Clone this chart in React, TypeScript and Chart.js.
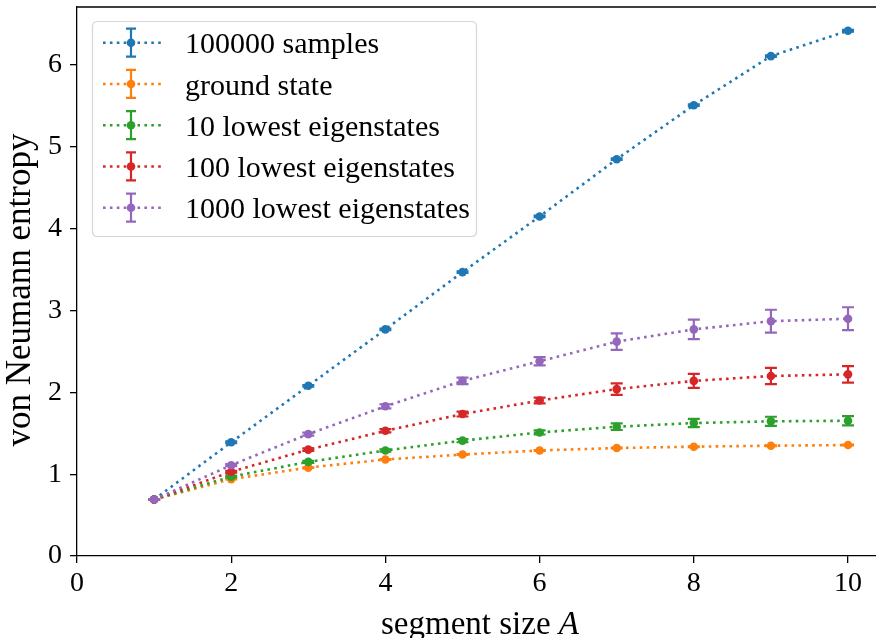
import React, { useEffect, useRef } from "react";
import { Chart, registerables } from "chart.js";

Chart.register(...registerables);

// ---- data ----
const segmentSizes = [1, 2, 3, 4, 5, 6, 7, 8, 9, 10];

const samples100000 = [0.69, 1.39, 2.08, 2.77, 3.47, 4.15, 4.85, 5.51, 6.11, 6.42];
const samples100000Err = [0.005, 0.01, 0.01, 0.01, 0.01, 0.01, 0.01, 0.01, 0.01, 0.01];

const groundState = [0.69, 0.94, 1.08, 1.18, 1.24, 1.29, 1.32, 1.336, 1.348, 1.356];
const groundStateErr = [0.002, 0.004, 0.004, 0.004, 0.005, 0.005, 0.005, 0.005, 0.005, 0.005];

const lowest10 = [0.69, 0.97, 1.15, 1.29, 1.41, 1.51, 1.58, 1.625, 1.646, 1.653];
const lowest10Err = [0.004, 0.01, 0.012, 0.015, 0.02, 0.025, 0.04, 0.05, 0.056, 0.056];

const lowest100 = [0.69, 1.03, 1.3, 1.53, 1.735, 1.9, 2.04, 2.14, 2.2, 2.22];
const lowest100Err = [0.004, 0.012, 0.015, 0.02, 0.03, 0.035, 0.07, 0.085, 0.1, 0.1];

const lowest1000 = [0.69, 1.11, 1.49, 1.83, 2.14, 2.38, 2.62, 2.77, 2.87, 2.9];
const lowest1000Err = [0.004, 0.012, 0.018, 0.025, 0.04, 0.05, 0.1, 0.12, 0.14, 0.14];

const seriesLabels = [
  "100000 samples",
  "ground state",
  "10 lowest eigenstates",
  "100 lowest eigenstates",
  "1000 lowest eigenstates",
];
const seriesValues = [samples100000, groundState, lowest10, lowest100, lowest1000];
const seriesErrors = [samples100000Err, groundStateErr, lowest10Err, lowest100Err, lowest1000Err];
const seriesColors = ["#1f77b4", "#ff7f0e", "#2ca02c", "#d62728", "#9467bd"];

const xTicks = [0, 2, 4, 6, 8, 10];
const yTicks = [0, 1, 2, 3, 4, 5, 6];

const xTitle = "segment size ";
const xTitleItalic = "A";
const yTitle = "von Neumann entropy";

// ---- style ----
const FONT = "'Liberation Serif', 'Times New Roman', serif";
const LINE_W = 2.6;
const DASH = [2.6, 4.3];
const POINT_R = 4.3;
const CAP = 6;

const errorBarPlugin = {
  id: "errorBars",
  afterDatasetDraw(chart: any, args: any) {
    const ds: any = chart.data.datasets[args.index];
    const errs: number[] = ds.errors;
    if (!errs) return;
    const ctx = chart.ctx;
    const yScale = chart.scales.y;
    const area = chart.chartArea;
    ctx.save();
    ctx.beginPath();
    ctx.rect(area.left, area.top, area.right - area.left, area.bottom - area.top);
    ctx.clip();
    ctx.strokeStyle = ds.borderColor;
    ctx.lineWidth = 2.2;
    ctx.setLineDash([]);
    args.meta.data.forEach((pt: any, i: number) => {
      const v = ds.data[i].y;
      const e = errs[i];
      const x = pt.x;
      const yTop = yScale.getPixelForValue(v + e);
      const yBot = yScale.getPixelForValue(v - e);
      ctx.beginPath();
      ctx.moveTo(x, yTop);
      ctx.lineTo(x, yBot);
      ctx.moveTo(x - CAP, yTop);
      ctx.lineTo(x + CAP, yTop);
      ctx.moveTo(x - CAP, yBot);
      ctx.lineTo(x + CAP, yBot);
      ctx.stroke();
    });
    ctx.restore();
  },
};

const decorPlugin = {
  id: "decor",
  afterDraw(chart: any) {
    const ctx = chart.ctx;
    const area = chart.chartArea;
    ctx.save();
    // top spine
    ctx.strokeStyle = "#000";
    ctx.lineWidth = 1.3;
    ctx.beginPath();
    ctx.moveTo(area.left - 0.65, area.top);
    ctx.lineTo(area.right, area.top);
    ctx.stroke();

    // axis titles
    ctx.fillStyle = "#000";
    ctx.textBaseline = "alphabetic";
    ctx.font = `33px ${FONT}`;
    const wA = ctx.measureText(xTitle).width;
    ctx.font = `italic 33px ${FONT}`;
    const wB = ctx.measureText(xTitleItalic).width;
    const cx = 480;
    const startX = cx - (wA + wB) / 2;
    ctx.font = `33px ${FONT}`;
    ctx.textAlign = "left";
    ctx.fillText(xTitle, startX, 634);
    ctx.font = `italic 33px ${FONT}`;
    ctx.fillText(xTitleItalic, startX + wA, 634);

    ctx.save();
    ctx.translate(30, 290);
    ctx.rotate(-Math.PI / 2);
    ctx.font = `35px ${FONT}`;
    ctx.textAlign = "center";
    ctx.fillText(yTitle, 0, 0);
    ctx.restore();

    // legend
    const bx = 92.5, by = 21.5, bw = 384, bh = 215, r = 5;
    ctx.beginPath();
    ctx.moveTo(bx + r, by);
    ctx.lineTo(bx + bw - r, by);
    ctx.quadraticCurveTo(bx + bw, by, bx + bw, by + r);
    ctx.lineTo(bx + bw, by + bh - r);
    ctx.quadraticCurveTo(bx + bw, by + bh, bx + bw - r, by + bh);
    ctx.lineTo(bx + r, by + bh);
    ctx.quadraticCurveTo(bx, by + bh, bx, by + bh - r);
    ctx.lineTo(bx, by + r);
    ctx.quadraticCurveTo(bx, by, bx + r, by);
    ctx.closePath();
    ctx.fillStyle = "rgba(255,255,255,0.8)";
    ctx.fill();
    ctx.strokeStyle = "rgba(204,204,204,0.8)";
    ctx.lineWidth = 1.2;
    ctx.stroke();

    seriesLabels.forEach((label, i) => {
      const cy = 42.7 + i * 41.25;
      const color = seriesColors[i];
      ctx.strokeStyle = color;
      ctx.lineWidth = LINE_W;
      ctx.setLineDash(DASH);
      ctx.lineCap = "butt";
      ctx.beginPath();
      ctx.moveTo(103, cy);
      ctx.lineTo(161, cy);
      ctx.stroke();
      ctx.setLineDash([]);
      ctx.lineWidth = 2.2;
      ctx.beginPath();
      ctx.moveTo(131, cy - 14);
      ctx.lineTo(131, cy + 14);
      ctx.moveTo(131 - 5, cy - 14);
      ctx.lineTo(131 + 5, cy - 14);
      ctx.moveTo(131 - 5, cy + 14);
      ctx.lineTo(131 + 5, cy + 14);
      ctx.stroke();
      ctx.fillStyle = color;
      ctx.beginPath();
      ctx.arc(131, cy, POINT_R, 0, Math.PI * 2);
      ctx.fill();
      ctx.fillStyle = "#000";
      ctx.font = `30px ${FONT}`;
      ctx.textAlign = "left";
      ctx.textBaseline = "alphabetic";
      ctx.fillText(label, 185, cy + 10.6);
    });
    ctx.restore();
  },
};

const zeroPadding = (scale: any) => {
  scale.paddingTop = 0;
  scale.paddingBottom = 0;
  scale.paddingLeft = 0;
  scale.paddingRight = 0;
};

export default function App() {
  const ref = useRef<HTMLCanvasElement>(null);

  useEffect(() => {
    document.body.style.margin = "0";
    const datasets = seriesLabels.map((label, i) => ({
      label,
      data: segmentSizes.map((x, j) => ({ x, y: seriesValues[i][j] })),
      errors: seriesErrors[i],
      borderColor: seriesColors[i],
      backgroundColor: seriesColors[i],
      pointBackgroundColor: seriesColors[i],
      pointBorderWidth: 0,
      pointRadius: POINT_R,
      borderWidth: LINE_W,
      borderDash: DASH,
      borderCapStyle: "butt",
      tension: 0,
      fill: false,
      order: seriesLabels.length - 1 - i,
    }));

    const tickFont = { family: FONT, size: 28 };

    const chart = new Chart(ref.current as HTMLCanvasElement, {
      type: "line",
      data: { datasets } as any,
      options: {
        animation: false,
        responsive: false,
        devicePixelRatio: 1,
        layout: { autoPadding: false, padding: { top: 7, left: 0, right: 0, bottom: 0 } },
        plugins: {
          legend: { display: false },
          tooltip: { enabled: false },
        },
        scales: {
          x: {
            type: "linear",
            min: 0,
            max: 10.363,
            afterBuildTicks: (scale: any) => {
              scale.ticks = xTicks.map((v) => ({ value: v }));
            },
            afterFit: (scale: any) => {
              scale.height = 82;
              zeroPadding(scale);
            },
            grid: {
              display: true,
              drawOnChartArea: false,
              drawTicks: true,
              tickLength: 7,
              color: "#000",
              lineWidth: 1.3,
            },
            border: { display: true, color: "#000", width: 1.3 },
            ticks: {
              font: tickFont,
              color: "#000",
              padding: 4,
              maxRotation: 0,
              autoSkip: false,
              callback: (v: any) => String(v),
            },
          },
          y: {
            type: "linear",
            min: 0,
            max: 6.71,
            afterBuildTicks: (scale: any) => {
              scale.ticks = yTicks.map((v) => ({ value: v }));
            },
            afterFit: (scale: any) => {
              scale.width = 77;
              zeroPadding(scale);
            },
            grid: {
              display: true,
              drawOnChartArea: false,
              drawTicks: true,
              tickLength: 7,
              color: "#000",
              lineWidth: 1.3,
            },
            border: { display: true, color: "#000", width: 1.3 },
            ticks: {
              font: tickFont,
              color: "#000",
              padding: 8,
              autoSkip: false,
              callback: (v: any) => String(v),
            },
          },
        },
      } as any,
      plugins: [errorBarPlugin, decorPlugin],
    });
    return () => chart.destroy();
  }, []);

  return (
    <div style={{ width: 876, height: 638, overflow: "hidden" }}>
      <canvas ref={ref} width={876} height={638} style={{ display: "block", width: 876, height: 638 }} />
    </div>
  );
}
